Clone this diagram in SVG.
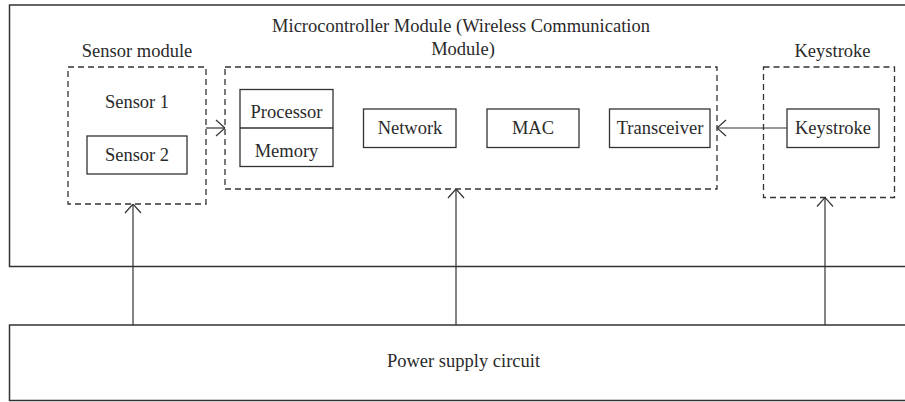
<svg xmlns="http://www.w3.org/2000/svg" width="905" height="402" viewBox="0 0 905 402">
  <style>
    text { font-family: "Liberation Serif", "Times New Roman", serif; font-size: 18.5px; fill: #2a2a2a; text-anchor: middle; }
    .frame { fill: none; stroke: #333; stroke-width: 1.5; }
    .box { fill: none; stroke: #333; stroke-width: 1.3; }
    .dash { fill: none; stroke: #333; stroke-width: 1.3; stroke-dasharray: 6 4; }
    .wire { fill: none; stroke: #333; stroke-width: 1.2; marker-end: url(#open); }
  </style>
  <defs>
    <marker id="open" viewBox="0 0 10 20" refX="10" refY="10" markerWidth="10" markerHeight="20" markerUnits="userSpaceOnUse" orient="auto">
      <path d="M1,2 L10,10 L1,18" fill="none" stroke="#333" stroke-width="1.2"/>
    </marker>
  </defs>

  <!-- wireless device enclosure (open on the right) -->
  <g id="device">
    <path class="frame" d="M905,5 H9.5 V266.5 H905"/>
  </g>

  <g id="sensor-module">
    <text x="137" y="57">Sensor module</text>
    <rect class="dash" x="68" y="67" width="138" height="137"/>
    <text x="137" y="108">Sensor 1</text>
    <rect class="box" x="87" y="136" width="100" height="38"/>
    <text x="137" y="161">Sensor 2</text>
  </g>

  <g id="microcontroller">
    <text x="461" y="32">Microcontroller Module (Wireless Communication</text>
    <text x="463" y="55">Module)</text>
    <rect class="dash" x="225" y="67" width="492" height="122"/>
  </g>

  <g id="processor-memory">
    <rect class="box" x="240" y="89.5" width="93" height="77"/>
    <line x1="240" y1="128" x2="333" y2="128" stroke="#333" stroke-width="1.3"/>
    <text x="286.5" y="118">Processor</text>
    <text x="286.5" y="157">Memory</text>
  </g>

  <g id="network">
    <rect class="box" x="363.5" y="109" width="92.5" height="38.5"/>
    <text x="410" y="134">Network</text>
  </g>

  <g id="mac">
    <rect class="box" x="487" y="109" width="92" height="38.5"/>
    <text x="533" y="134">MAC</text>
  </g>

  <g id="transceiver">
    <rect class="box" x="609.5" y="109" width="100.5" height="38.5"/>
    <text x="660" y="134">Transceiver</text>
  </g>

  <g id="keystroke-module">
    <text x="832.5" y="57">Keystroke</text>
    <rect class="dash" x="763.5" y="67" width="131" height="130.5"/>
    <rect class="box" x="787" y="109" width="92" height="38.5"/>
    <text x="833" y="134">Keystroke</text>
  </g>

  <g id="power-supply">
    <path class="frame" d="M905,325 H9.5 V400.5 H905"/>
    <text x="463.5" y="367">Power supply circuit</text>
  </g>

  <g id="connectors">
    <line class="wire" x1="206" y1="128" x2="225" y2="128"/>
    <line class="wire" x1="787" y1="128" x2="717" y2="128"/>
    <line class="wire" x1="133" y1="325" x2="133" y2="204"/>
    <line class="wire" x1="456" y1="325" x2="456" y2="189"/>
    <line class="wire" x1="825" y1="325" x2="825" y2="197.5"/>
  </g>
</svg>
